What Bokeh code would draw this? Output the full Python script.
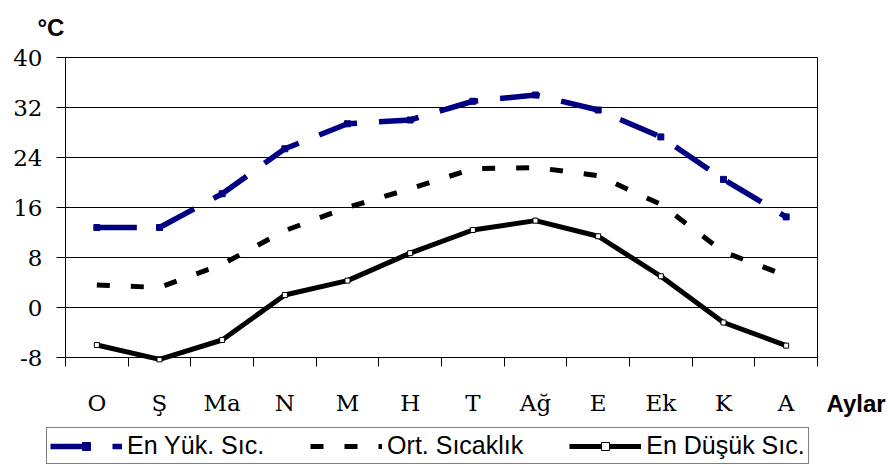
from bokeh.plotting import figure
from bokeh.models import (Range1d, FixedTicker, Legend, LegendItem, LinearAxis, Label,
                          ColumnDataSource)
from bokeh.embed import file_html
from bokeh.resources import INLINE

months = ["O", "Ş", "Ma", "N", "M", "H", "T", "Ağ", "E", "Ek", "K", "A"]
high = [12.8, 12.8, 18.2, 25.4, 29.4, 30.0, 33.0, 34.0, 31.6, 27.3, 20.5, 14.5]
avg = [3.6, 3.2, 6.9, 12.3, 16.0, 19.0, 22.2, 22.4, 21.1, 16.5, 8.9, 5.1]
low = [-6.0, -8.3, -5.2, 2.0, 4.3, 8.7, 12.4, 13.9, 11.4, 5.0, -2.4, -6.1]
y_ticks = [-8, 0, 8, 16, 24, 32, 40]
series_names = ["En Yük. Sıc.", "Ort. Sıcaklık", "En Düşük Sıc."]
unit_label = "°C"
x_title = "Aylar"

W, H = 893, 465
# plot-area margins in pixels (frame covers whole canvas, axes are pinned)
ML, MR, MT, MB = 65, 76, 57, 108

n = len(months)
xs = [i + 0.5 for i in range(n)]
src = ColumnDataSource(dict(x=xs, high=high, avg=avg, low=low))

ymin, ymax = y_ticks[0], y_ticks[-1]
px_x = (W - ML - MR) / n
px_y = (H - MT - MB) / (ymax - ymin)
x_range = Range1d(-ML / px_x, n + MR / px_x)
y_range = Range1d(ymin - MB / px_y, ymax + MT / px_y)

p = figure(width=W, height=H, output_backend="svg", toolbar_location=None,
           x_range=x_range, y_range=y_range,
           min_border_left=0, min_border_right=0, min_border_top=0, min_border_bottom=0)
p.background_fill_color = "white"
p.border_fill_color = "white"
p.outline_line_color = None

xa = p.xaxis[0]
xa.fixed_location = ymin
xa.bounds = (0, n)
xa.ticker = FixedTicker(ticks=xs, minor_ticks=[float(i) for i in range(n + 1)])
xa.major_label_overrides = {x: m for x, m in zip(xs, months)}
xa.major_tick_out = 0
xa.major_tick_in = 0
xa.minor_tick_out = 9
xa.minor_tick_in = 0
xa.minor_tick_line_color = "black"
xa.axis_line_color = "black"
xa.major_label_text_font = "DejaVu Serif"
xa.major_label_text_font_size = "23px"
xa.major_label_text_color = "black"
xa.major_label_standoff = 23

ya = p.yaxis[0]
ya.fixed_location = 0
ya.bounds = (ymin, ymax)
ya.ticker = FixedTicker(ticks=y_ticks)
ya.major_label_overrides = {t: str(t) for t in y_ticks}
ya.minor_tick_line_color = None
ya.major_tick_out = 9
ya.major_tick_in = 0
ya.major_tick_line_color = "black"
ya.axis_line_color = "black"
ya.major_label_text_font = "DejaVu Serif"
ya.major_label_text_font_size = "23px"
ya.major_label_text_color = "black"
ya.major_label_standoff = 14

# right border of the plot area
rb = LinearAxis(fixed_location=n, bounds=(ymin, ymax), ticker=FixedTicker(ticks=[]))
rb.axis_line_color = "black"
rb.major_tick_line_color = None
rb.minor_tick_line_color = None
rb.major_label_text_font_size = "0px"
p.add_layout(rb, "right")

p.xgrid.grid_line_color = None
p.ygrid.grid_line_color = "black"
p.ygrid.grid_line_width = 1
try:
    p.ygrid.cross_bounds = (0, n)
except Exception:
    p.ygrid.grid_line_color = None
    p.segment(x0=[0] * len(y_ticks), x1=[n] * len(y_ticks), y0=y_ticks, y1=y_ticks,
              line_color="black", line_width=1)

r_high = p.line("x", "high", source=src, line_color="#000080", line_width=5.5, line_dash="40 22")
r_high_m = p.scatter("x", "high", source=src, marker="square", size=6, fill_color="#000080",
                     line_color="#000080")
r_avg = p.line("x", "avg", source=src, line_color="black", line_width=5, line_dash="13 21")
r_low = p.line("x", "low", source=src, line_color="black", line_width=5)
r_low_m = p.scatter("x", "low", source=src, marker="square", size=5, fill_color="white",
                    line_color="black", line_width=1)

legend = Legend(items=[
    LegendItem(label=series_names[0], renderers=[r_high, r_high_m]),
    LegendItem(label=series_names[1], renderers=[r_avg]),
    LegendItem(label=series_names[2], renderers=[r_low, r_low_m]),
], orientation="horizontal", location=(46, 1))
legend.label_text_font = "Liberation Sans"
legend.label_text_font_size = "25px"
legend.label_text_color = "black"
legend.glyph_width = 72
legend.glyph_height = 20
legend.label_standoff = 5
legend.spacing = 46
legend.padding = 3
legend.margin = 0
legend.border_line_color = "black"
legend.border_line_width = 1
legend.background_fill_alpha = 1
p.add_layout(legend)

p.add_layout(Label(x=0, y=ymax, x_offset=-28, y_offset=30, text=unit_label,
                   text_font="Liberation Sans", text_font_size="24px", text_font_style="bold",
                   text_color="black", text_baseline="alphabetic"))
p.add_layout(Label(x=n, y=ymin, x_offset=9, y_offset=-46, text=x_title,
                   text_font="Liberation Sans", text_font_size="24px", text_font_style="bold",
                   text_color="black", text_baseline="alphabetic"))

open("out.html", "w").write(file_html(p, INLINE))
